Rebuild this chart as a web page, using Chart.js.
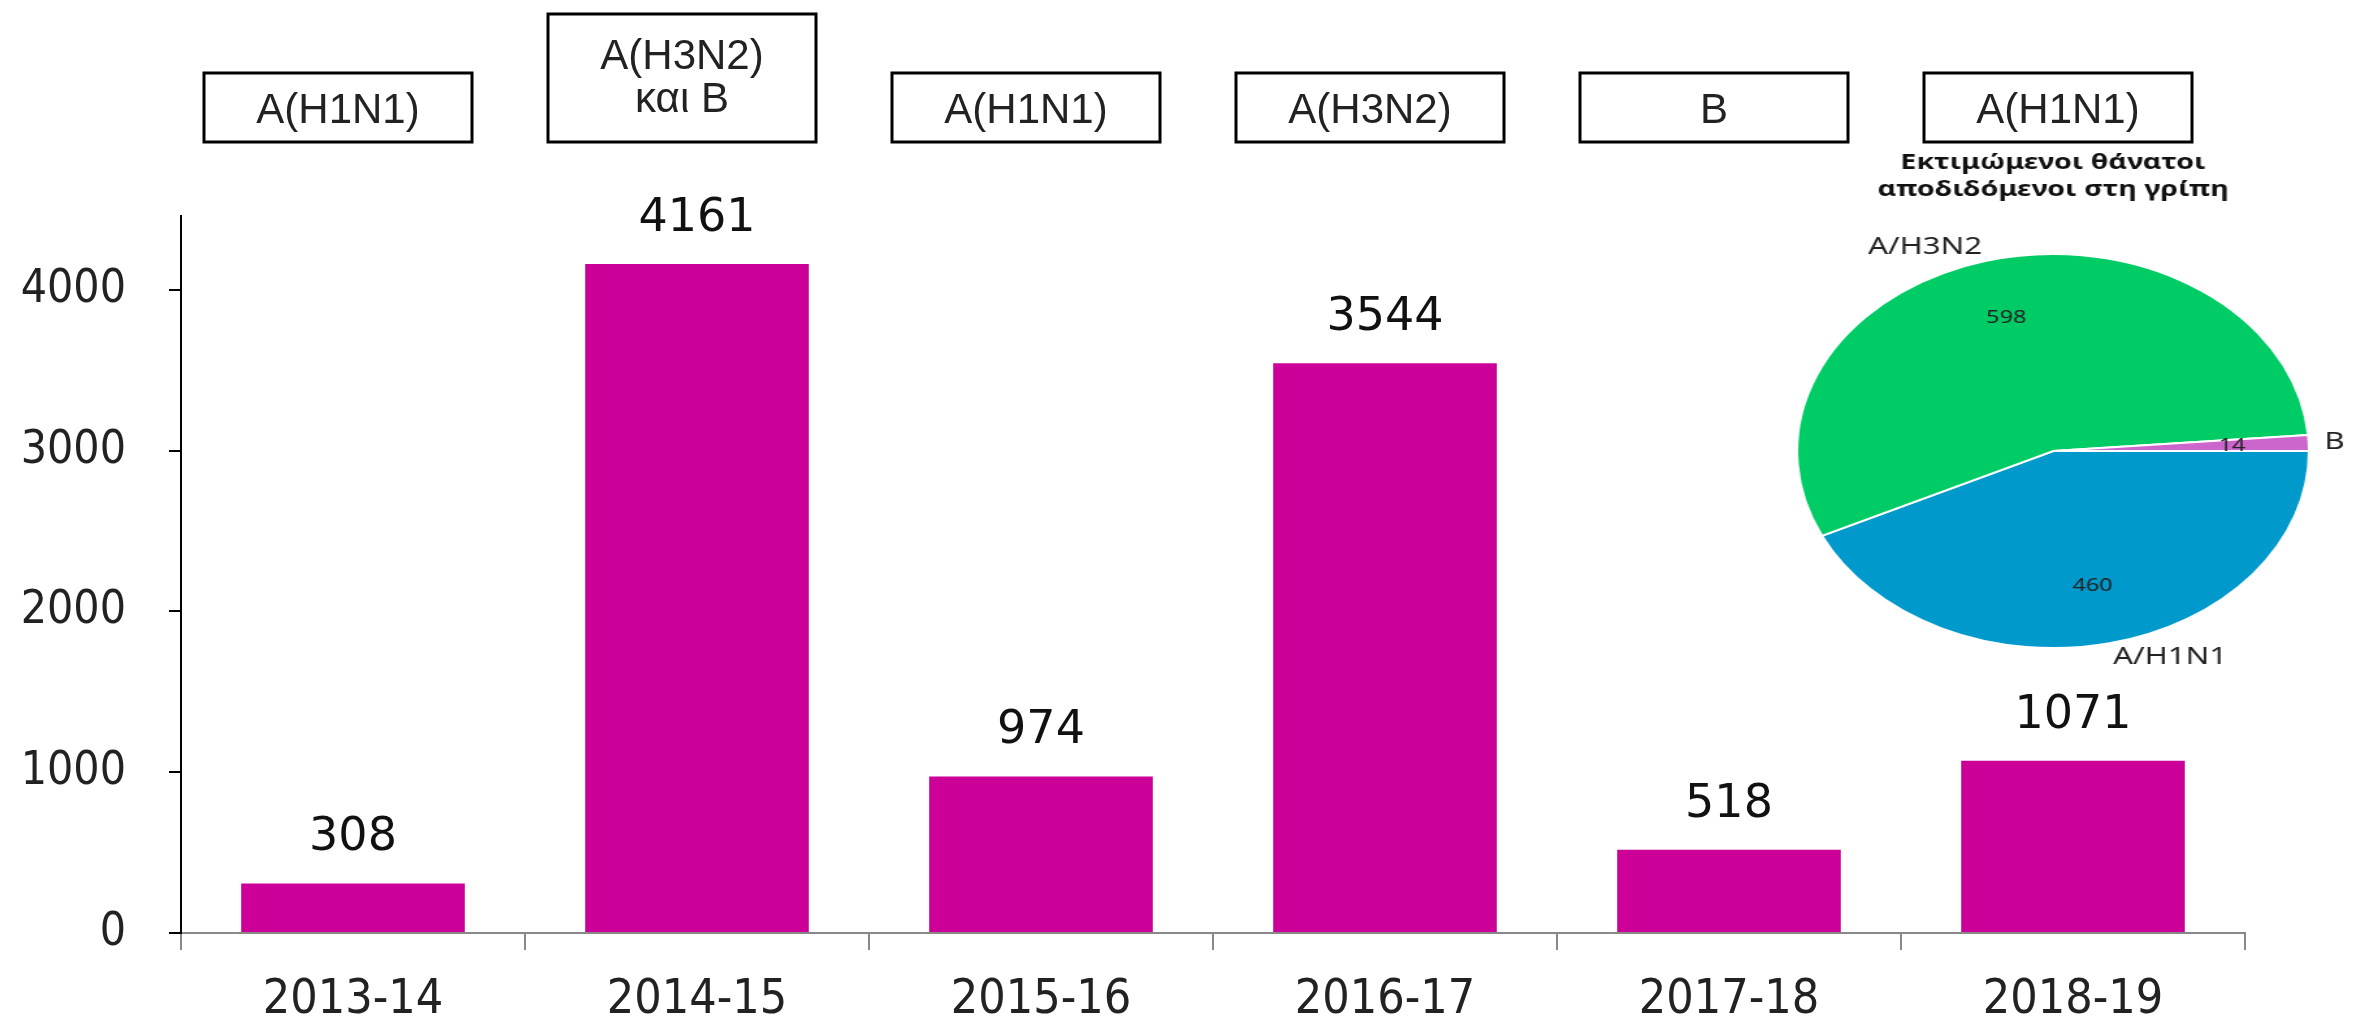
<!DOCTYPE html>
<html lang="el">
  <head>
    <meta charset="UTF-8" />
    <title>Εκτιμώμενοι θάνατοι από γρίπη</title>
    <script src="https://cdn.jsdelivr.net/npm/chart.js"></script>
    <style>
      html, body { margin: 0; padding: 0; background: #fff; }
      .page { position: relative; width: 2371px; height: 1018px; overflow: hidden; }
      #barChart { position: absolute; left: 0; top: 0; }
      #pieChart {
        position: absolute;
        left: 1803px;
        top: 140px;
        transform: scaleX(1.3);
        transform-origin: 50% 50%;
      }
    </style>
  </head>
  <body>
    <div class="page">
      <canvas id="barChart" width="2371" height="1018"></canvas>
      <canvas id="pieChart" width="500" height="560"></canvas>
    </div>

    <script>
      // seasons and estimated deaths
      const seasons = ['2013-14', '2014-15', '2015-16', '2016-17', '2017-18', '2018-19'];
      const deaths = [308, 4161, 974, 3544, 518, 1071];
      const yTicks = [0, 1000, 2000, 3000, 4000];
      // dominant strain per season (boxes above the bars)
      const strains = [['A(H1N1)'], ['A(H3N2)', 'και B'], ['A(H1N1)'], ['A(H3N2)'], ['B'], ['A(H1N1)']];

      // pie: deaths by strain, 2018-19
      const pieTitle = ['Εκτιμώμενοι θάνατοι', 'αποδιδόμενοι στη γρίπη'];
      const pieLabels = ['A/H1N1', 'A/H3N2', 'B'];
      const pieValues = [460, 598, 14];
      const pieColors = ['#0099CC', '#00CC66', '#CC66CC'];

      const condensed = "'DejaVu Sans Condensed', 'DejaVu Sans', sans-serif";

      // value labels above the bars
      const barLabels = {
        id: 'barLabels',
        afterDatasetsDraw(chart) {
          const ctx = chart.ctx;
          const meta = chart.getDatasetMeta(0);
          ctx.save();
          ctx.font = "46px 'DejaVu Sans', sans-serif";
          ctx.fillStyle = '#111';
          ctx.textAlign = 'center';
          ctx.textBaseline = 'alphabetic';
          meta.data.forEach((bar, i) => {
            ctx.fillText(String(deaths[i]), bar.x, bar.y - 33);
          });
          ctx.restore();
        }
      };

      // strain boxes on top of each season
      const strainBoxes = {
        id: 'strainBoxes',
        afterDraw(chart) {
          const ctx = chart.ctx;
          const xs = chart.scales.x;
          ctx.save();
          ctx.font = "42px 'Liberation Sans', Arial, sans-serif";
          ctx.fillStyle = '#222';
          ctx.strokeStyle = '#000';
          ctx.lineWidth = 3;
          ctx.textAlign = 'center';
          ctx.textBaseline = 'middle';
          strains.forEach((lines, i) => {
            const cx = xs.getPixelForValue(i) - 15;
            const w = 268;
            const bottom = 142;
            const h = lines.length > 1 ? 128 : 69;
            ctx.strokeRect(cx - w / 2, bottom - h, w, h);
            if (lines.length > 1) {
              ctx.fillText(lines[0], cx, bottom - h + 43);
              ctx.fillText(lines[1], cx, bottom - h + 86);
            } else {
              ctx.fillText(lines[0], cx, bottom - h / 2 + 4);
            }
          });
          ctx.restore();
        }
      };

      new Chart(document.getElementById('barChart'), {
        type: 'bar',
        data: {
          labels: seasons,
          datasets: [{
            data: deaths,
            backgroundColor: '#CC0099',
            borderWidth: 0,
            barPercentage: 0.65,
            categoryPercentage: 1
          }]
        },
        options: {
          responsive: false,
          devicePixelRatio: 1,
          animation: false,
          layout: { padding: { top: 216, right: 126, left: 0, bottom: 0 } },
          plugins: { legend: { display: false }, tooltip: { enabled: false } },
          scales: {
            x: {
              afterFit(scale) { scale.height = 85; },
              border: { display: true, color: '#888', width: 2 },
              grid: { drawOnChartArea: false, drawTicks: true, tickLength: 17, color: '#888', lineWidth: 2 },
              ticks: { color: '#222', font: { family: condensed, size: 48 }, padding: 22 }
            },
            y: {
              min: 0,
              max: 4460,
              afterFit(scale) { scale.width = 181; },
              afterBuildTicks(scale) { scale.ticks = yTicks.map(v => ({ value: v })); },
              border: { display: true, color: '#000', width: 2 },
              grid: { drawOnChartArea: false, drawTicks: true, tickLength: 12, color: '#000', lineWidth: 2 },
              ticks: {
                color: '#222',
                font: { family: condensed, size: 46 },
                padding: 43,
                callback: v => String(v)
              }
            }
          }
        },
        plugins: [barLabels, strainBoxes]
      });

      // labels inside and outside the pie slices
      const pieText = {
        id: 'pieText',
        afterDatasetsDraw(chart) {
          const ctx = chart.ctx;
          const meta = chart.getDatasetMeta(0);
          ctx.save();
          ctx.fillStyle = '#222';
          ctx.textBaseline = 'middle';
          meta.data.forEach((arc, i) => {
            const mid = (arc.startAngle + arc.endAngle) / 2;
            const r = arc.outerRadius;
            ctx.font = "18px 'Noto Sans', sans-serif";
            ctx.textAlign = 'center';
            ctx.fillText(String(pieValues[i]), arc.x + Math.cos(mid) * r * 0.7, arc.y + Math.sin(mid) * r * 0.7);
            ctx.font = "24px 'Noto Sans', sans-serif";
            ctx.textAlign = Math.cos(mid) < 0 ? 'right' : 'left';
            ctx.fillText(pieLabels[i], arc.x + Math.cos(mid) * (r + 12), arc.y + Math.sin(mid) * (r + 14));
          });
          ctx.restore();
        }
      };

      new Chart(document.getElementById('pieChart'), {
        type: 'pie',
        data: {
          labels: pieLabels,
          datasets: [{
            data: pieValues,
            backgroundColor: pieColors,
            borderColor: '#fff',
            borderWidth: 2
          }]
        },
        options: {
          responsive: false,
          devicePixelRatio: 1,
          animation: false,
          rotation: 90,
          layout: { padding: { top: 0, bottom: 50, left: 52, right: 52 } },
          plugins: {
            legend: { display: false },
            tooltip: { enabled: false },
            title: {
              display: true,
              text: pieTitle,
              color: '#111',
              font: { family: "'Noto Sans', sans-serif", size: 22, weight: 'bold', lineHeight: 1.23 },
              padding: { top: 9, bottom: 49 }
            }
          }
        },
        plugins: [pieText]
      });
    </script>
  </body>
</html>
